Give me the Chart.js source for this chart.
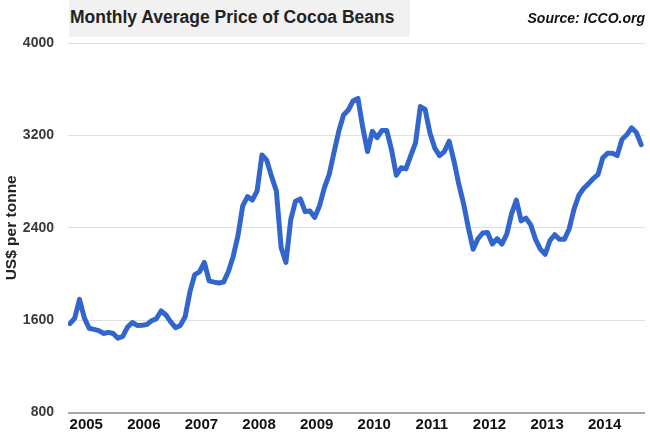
<!DOCTYPE html>
<html>
<head>
<meta charset="utf-8">
<script src="https://cdn.jsdelivr.net/npm/chart.js@4.4.1/dist/chart.umd.min.js"></script>
<style>
  body { margin: 0; background: #fff; }
  #wrap { position: relative; width: 650px; height: 435px; }
  #title {
    position: absolute; left: 69px; top: 0; width: 341px; height: 37px;
    background: #f1f1f1; color: #222; box-sizing: border-box; padding-left: 1px;
    font: bold 17.5px 'Liberation Sans', Arial, sans-serif; line-height: 35px;
  }
  #source {
    position: absolute; right: 5px; top: 10px; color: #111;
    font: italic bold 14px 'Liberation Sans', Arial, sans-serif;
  }
</style>
</head>
<body>
<div id="wrap">
  <canvas id="chart" width="650" height="435"></canvas>
  <div id="title">Monthly Average Price of Cocoa Beans</div>
  <div id="source">Source: ICCO.org</div>
</div>
<script>
// monthly average price, US$ per tonne, Sep 2004 .. Aug 2014
const prices = [
  1570, 1617, 1780, 1620, 1530, 1520, 1510, 1485, 1495, 1485, 1445, 1460,
  1540, 1580, 1555, 1557, 1562, 1595, 1612, 1680, 1645, 1585, 1535, 1555,
  1630, 1845, 1995, 2018, 2100, 1940, 1930, 1922, 1930, 2020, 2150, 2330,
  2590, 2670, 2640, 2720, 3030, 2985, 2845, 2720, 2230, 2100, 2470, 2630,
  2650, 2540, 2545, 2490, 2590, 2745, 2860, 3050, 3235, 3376, 3420, 3500,
  3520, 3270, 3060, 3235, 3180, 3243, 3243, 3075, 2855, 2920, 2910, 3025,
  3135, 3450, 3425, 3220, 3090, 3025, 3060, 3150, 2980, 2780, 2610, 2400,
  2215, 2305, 2355, 2360, 2260, 2305, 2258, 2345, 2520, 2640, 2460, 2484,
  2425, 2300, 2215, 2170, 2290, 2340, 2300, 2300, 2390, 2560, 2680, 2740,
  2780, 2825, 2860, 3005, 3045, 3045, 3025, 3165, 3205, 3265, 3225, 3120
];
const monthNames = ['Jan','Feb','Mar','Apr','May','Jun','Jul','Aug','Sep','Oct','Nov','Dec'];
const months = prices.map((p, i) => {
  const m = 8 + i;
  return monthNames[m % 12] + ' ' + (2004 + Math.floor(m / 12));
});
const yearLabels = ['2005','2006','2007','2008','2009','2010','2011','2012','2013','2014'];
const yearTicks = yearLabels.map((y, k) => 3.4 + 12 * k);
const priceTicks = [800, 1600, 2400, 3200, 4000];

const points = prices.map((p, i) => ({ x: i, y: p }));

new Chart(document.getElementById('chart'), {
  type: 'line',
  data: {
    datasets: [{
      label: 'Price',
      data: points,
      borderColor: '#3366cc',
      borderWidth: 5,
      borderJoinStyle: 'round',
      borderCapStyle: 'round',
      pointRadius: 0,
      tension: 0,
      fill: false
    }]
  },
  options: {
    responsive: false,
    animation: false,
    layout: { padding: { top: 43, right: 5, bottom: 0, left: 0 } },
    plugins: {
      legend: { display: false },
      tooltip: {
        callbacks: { title: items => months[items[0].parsed.x] }
      }
    },
    scales: {
      x: {
        type: 'linear',
        min: -0.4,
        max: 119.8,
        grid: { display: false, drawTicks: false },
        border: { display: false },
        afterBuildTicks: s => { s.ticks = yearTicks.map(v => ({ value: v })); },
        afterFit: s => { s.height = 18; },
        ticks: {
          autoSkip: false,
          maxRotation: 0,
          padding: 3,
          color: '#111',
          font: { family: "'Liberation Sans', Arial, sans-serif", size: 15, weight: 'bold' },
          callback: (v, i) => yearLabels[i]
        }
      },
      y: {
        min: 800,
        max: 4000,
        afterBuildTicks: s => { s.ticks = priceTicks.map(v => ({ value: v })); },
        afterFit: s => { s.width = 68; },
        border: { display: false },
        grid: {
          drawTicks: false,
          color: c => c.tick && c.tick.value === 800 ? '#a8a8a8' : '#e0e0e0',
          lineWidth: c => c.tick && c.tick.value === 800 ? 2 : 1
        },
        title: {
          display: true,
          text: 'US$ per tonne',
          color: '#222',
          padding: { top: 2, bottom: 0 },
          font: { family: "'Liberation Sans', Arial, sans-serif", size: 15.5, weight: 'bold' }
        },
        ticks: {
          padding: 14,
          color: '#3a3a3a',
          font: { family: "'Liberation Sans', Arial, sans-serif", size: 14, weight: 'bold' },
          callback: v => String(v)
        }
      }
    }
  }
});
</script>
</body>
</html>
